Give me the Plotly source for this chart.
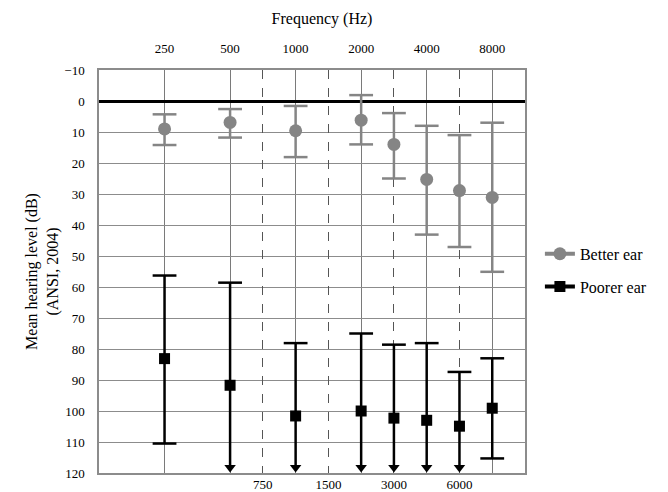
import plotly.graph_objects as go

# ---- data ----
octave_freqs = [250, 500, 1000, 2000, 4000, 8000]
mid_freqs = [750, 1500, 3000, 6000]
# audiogram horizontal scale: octaves equally spaced, mid-octave freqs half way
audiogram_pos = {250: 0, 500: 1, 750: 1.5, 1000: 2, 1500: 2.5, 2000: 3,
                 3000: 3.5, 4000: 4, 6000: 4.5, 8000: 5}

better_freqs = [250, 500, 1000, 2000, 3000, 4000, 6000, 8000]
better_mean = [9.0, 6.9, 9.6, 6.2, 14.0, 25.3, 28.9, 31.1]
better_low = [4.3, 2.6, 1.6, -1.9, 3.9, 8.0, 11.0, 7.0]      # upper whisker (better hearing)
better_high = [14.2, 11.8, 18.1, 14.0, 25.0, 43.1, 47.1, 55.1]

poorer_freqs = [250, 500, 1000, 2000, 3000, 4000, 6000, 8000]
poorer_mean = [83.1, 91.7, 101.6, 100.0, 102.3, 103.0, 104.9, 99.1]
poorer_low = [56.3, 58.6, 78.1, 75.0, 78.6, 78.1, 87.4, 83.0]
poorer_high = [110.5, 120, 120, 120, 120, 120, 120, 115.3]
poorer_open = [False, True, True, True, True, True, True, False]  # whisker beyond chart limit

y_ticks = list(range(-10, 121, 10))

GRAY = "#858585"
FONT = "'Liberation Serif', 'Times New Roman', serif"

bx = [audiogram_pos[f] for f in better_freqs]
px = [audiogram_pos[f] for f in poorer_freqs]

fig = go.Figure()

def stems(xs, lo, hi):
    X, Y = [], []
    for x, a, b in zip(xs, lo, hi):
        X += [x, x, None]
        Y += [a, b, None]
    return X, Y

# Better ear whiskers
sx, sy = stems(bx, better_low, better_high)
fig.add_trace(go.Scatter(x=sx, y=sy, mode="lines", line=dict(color=GRAY, width=2.5),
                         showlegend=False, hoverinfo="skip"))
fig.add_trace(go.Scatter(x=bx + bx, y=better_low + better_high, mode="markers",
                         marker=dict(symbol="line-ew", size=17, line=dict(color=GRAY, width=2.5)),
                         showlegend=False, hoverinfo="skip"))
fig.add_trace(go.Scatter(x=bx, y=better_mean, mode="markers",
                         marker=dict(symbol="circle", size=13, color=GRAY),
                         showlegend=False))

# Poorer ear whiskers
arrow_end = 118.2
p_hi = [arrow_end if o else h for h, o in zip(poorer_high, poorer_open)]
sx, sy = stems(px, poorer_low, p_hi)
fig.add_trace(go.Scatter(x=sx, y=sy, mode="lines", line=dict(color="black", width=2.5),
                         showlegend=False, hoverinfo="skip"))
cap_x = px + [x for x, o in zip(px, poorer_open) if not o]
cap_y = poorer_low + [h for h, o in zip(poorer_high, poorer_open) if not o]
fig.add_trace(go.Scatter(x=cap_x, y=cap_y, mode="markers",
                         marker=dict(symbol="line-ew", size=17, line=dict(color="black", width=2.5)),
                         showlegend=False, hoverinfo="skip"))
fig.add_trace(go.Scatter(x=[x for x, o in zip(px, poorer_open) if o],
                         y=[arrow_end for o in poorer_open if o], mode="markers",
                         marker=dict(symbol="triangle-down", size=10, color="black"),
                         showlegend=False, hoverinfo="skip"))
fig.add_trace(go.Scatter(x=px, y=poorer_mean, mode="markers",
                         marker=dict(symbol="square", size=11, color="black"),
                         showlegend=False))

# legend entries
fig.add_trace(go.Scatter(x=[None], y=[None], mode="lines+markers", name="Better ear",
                         legendgroup="b",
                         line=dict(color=GRAY, width=4), marker=dict(size=13, color=GRAY)))
fig.add_trace(go.Scatter(x=[None], y=[None], mode="lines+markers", name="Poorer ear",
                         legendgroup="p",
                         line=dict(color="black", width=4),
                         marker=dict(size=11, color="black", symbol="square")))

# dummy trace on bottom axis for the mid-octave grid
fig.add_trace(go.Scatter(x=[None], y=[None], xaxis="x2", showlegend=False))

fig.update_layout(
    width=668, height=492,
    margin=dict(l=99, r=143, t=70, b=19),
    paper_bgcolor="white", plot_bgcolor="white",
    font=dict(family=FONT, color="black", size=13),
    title=dict(text="Frequency (Hz)", x=0.482, xref="container", xanchor="center",
               y=1 - 18 / 492, yref="container", yanchor="middle",
               font=dict(family=FONT, size=16, color="black"), automargin=False),
    xaxis=dict(side="top", range=[-1, 5.5], automargin=False,
               tickvals=[audiogram_pos[f] for f in octave_freqs],
               ticktext=[str(f) for f in octave_freqs],
               showgrid=True, gridcolor="#7a7a7a", gridwidth=1, zeroline=False,
               showline=True, mirror=True, linecolor="#8c8c8c", linewidth=1.5,
               ticks="", ticklabelstandoff=10, tickfont=dict(size=13, family=FONT)),
    xaxis2=dict(overlaying="x", side="bottom", range=[-1, 5.5], automargin=False,
                tickvals=[audiogram_pos[f] for f in mid_freqs],
                ticktext=[str(f) for f in mid_freqs],
                showgrid=True, gridcolor="#555555", gridwidth=1, griddash="dash",
                zeroline=False, showline=False, ticks="", ticklabelstandoff=2,
                tickfont=dict(size=13, family=FONT)),
    yaxis=dict(range=[120, -10], tickvals=y_ticks, automargin=False,
               showgrid=True, gridcolor="#8c8c8c", gridwidth=1,
               zeroline=True, zerolinecolor="black", zerolinewidth=3,
               showline=True, mirror=True, linecolor="#8c8c8c", linewidth=1.5,
               ticks="", ticklabelstandoff=10, tickfont=dict(size=13, family=FONT),
               title=dict(text="Mean hearing level (dB)<br>(ANSI, 2004)",
                          font=dict(size=16, family=FONT), standoff=2)),
    legend=dict(x=1.035, y=0.586, xanchor="left", yanchor="top",
                font=dict(size=16, family=FONT), tracegroupgap=9,
                bgcolor="rgba(0,0,0,0)", itemwidth=30),
    showlegend=True,
)

fig.write_html("out.html")
